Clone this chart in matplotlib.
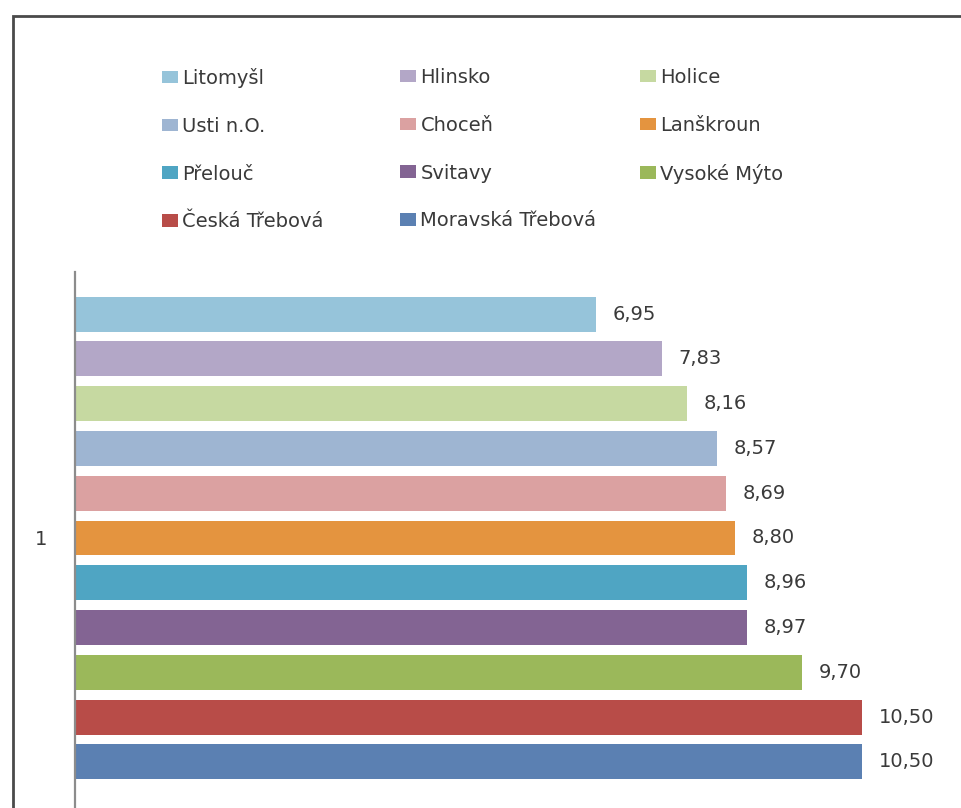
import matplotlib
matplotlib.use("Agg")
import matplotlib.pyplot as plt
from matplotlib.patches import Rectangle
import numpy as np

plt.rcParams['font.family'] = ['DejaVu Sans']

towns = ["Litomyšl", "Hlinsko", "Holice", "Usti n.O.", "Choceň", "Lanškroun",
         "Přelouč", "Svitavy", "Vysoké Mýto", "Česká Třebová", "Moravská Třebová"]
values = [6.95, 7.83, 8.16, 8.57, 8.69, 8.80, 8.96, 8.97, 9.70, 10.50, 10.50]
colors = ["#96C4DA", "#B3A7C7", "#C6D9A1", "#9EB5D2", "#DBA1A1", "#E4943F",
          "#4FA5C3", "#836493", "#9BB85A", "#B84C48", "#5B80B2"]
category = ["1"]

W, H = 961, 808
FS = 14
TXT = "#3a3a3a"
fig = plt.figure(figsize=(W / 100, H / 100), dpi=100)

# plot area
ax = fig.add_axes([75 / W, 0, (W - 75) / W, 1 - 272 / H])
pos = np.arange(len(values))
bars = []
for i, (name, v, c) in enumerate(zip(towns, values, colors)):
    b = ax.barh(pos[i], v, height=0.78, color=c, label=name)
    bars.append(b)
    ax.bar_label(b, labels=[f"{v:.2f}".replace(".", ",")], padding=12,
                 fontsize=FS, color=TXT)

ax.set_xlim(0, 11.82)
ax.set_ylim(11.03, -0.94)
ax.set_yticks([pos.mean()])
ax.set_yticklabels(category, fontsize=FS, color=TXT)
ax.tick_params(axis="y", length=0, pad=20)
ax.set_xticks([])
for s in ["top", "right", "bottom"]:
    ax.spines[s].set_visible(False)
ax.spines["left"].set_color("#8c8c8c")
ax.spines["left"].set_linewidth(1.6)

# legend: three columns, filled row by row
handles = [b.patches[0] for b in bars]
col_x = [162, 400, 640]
for k in range(3):
    fig.legend(handles[k::3], towns[k::3], loc="upper left",
               bbox_to_anchor=(col_x[k] / W, 1 - 68 / H),
               frameon=False, fontsize=FS, labelcolor=TXT,
               handlelength=0.8, handleheight=0.62, handletextpad=0.25,
               labelspacing=1.48, borderpad=0, borderaxespad=0)

# outer frame
fig.add_artist(Rectangle((13 / W, -0.5), 2, 1.5 - 16 / H, transform=fig.transFigure,
                         fill=False, edgecolor="#4a4a4a", linewidth=2))

fig.savefig("out.png", dpi=100)
